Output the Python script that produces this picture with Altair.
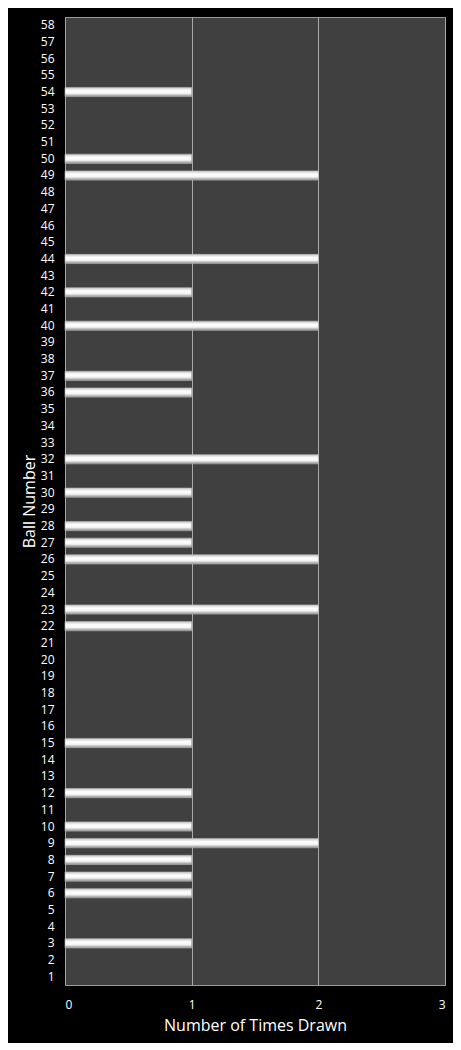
import altair as alt
import pandas as pd

balls = list(range(1, 59))
drawn_balls = [3, 6, 7, 8, 9, 10, 12, 15, 22, 23, 26, 27, 28, 30, 32, 36, 37, 40, 42, 44, 49, 50, 54]
drawn_counts = [1, 1, 1, 1, 2, 1, 1, 1, 1, 2, 2, 1, 1, 1, 2, 1, 1, 2, 1, 2, 2, 1, 1]

df = pd.DataFrame({"ball": [str(b) for b in drawn_balls], "times": drawn_counts})
order = [str(b) for b in reversed(balls)]

grad = alt.Gradient(
    gradient="linear", x1=0, x2=0, y1=0, y2=1,
    stops=[alt.GradientStop(color="#c8c8c8", offset=0),
           alt.GradientStop(color="#ffffff", offset=0.35),
           alt.GradientStop(color="#f4f4f4", offset=0.65),
           alt.GradientStop(color="#8a8a8a", offset=1)])

chart = alt.Chart(df).mark_bar(color=grad, stroke="#bdbdbd", strokeWidth=0.6).encode(
    x=alt.X("times:Q", scale=alt.Scale(domain=[0, 3], nice=False),
            axis=alt.Axis(values=[0, 1, 2, 3], format="d", title="Number of Times Drawn",
                          grid=True, gridColor="#a8a8a8", gridWidth=1,
                          domain=False, ticks=False, labelColor="white", labelFontSize=12,
                          labelPadding=14, titleColor="white", titleFontSize=16,
                          titleFontWeight="normal", titlePadding=7,
                          labelFont="Open Sans", titleFont="Open Sans")),
    y=alt.Y("ball:N", sort=order,
            scale=alt.Scale(domain=order, paddingInner=0.45, paddingOuter=0.22),
            axis=alt.Axis(title="Ball Number", domain=False, ticks=False, grid=False,
                          labelColor="white", labelFontSize=12, labelPadding=11,
                          titleColor="white", titleFontSize=16, titleFontWeight="normal",
                          titlePadding=3, labelFont="Open Sans", titleFont="Open Sans")),
).properties(
    width=380, height=968,
    background="black",
    padding={"left": 57, "top": 9, "right": 8, "bottom": 58},
    autosize=alt.AutoSizeParams(type="none"),
).configure_view(
    fill="#404040", stroke="#9a9a9a", strokeWidth=1
)

chart.save("out.html", embed_options={"renderer": "svg", "actions": False})
